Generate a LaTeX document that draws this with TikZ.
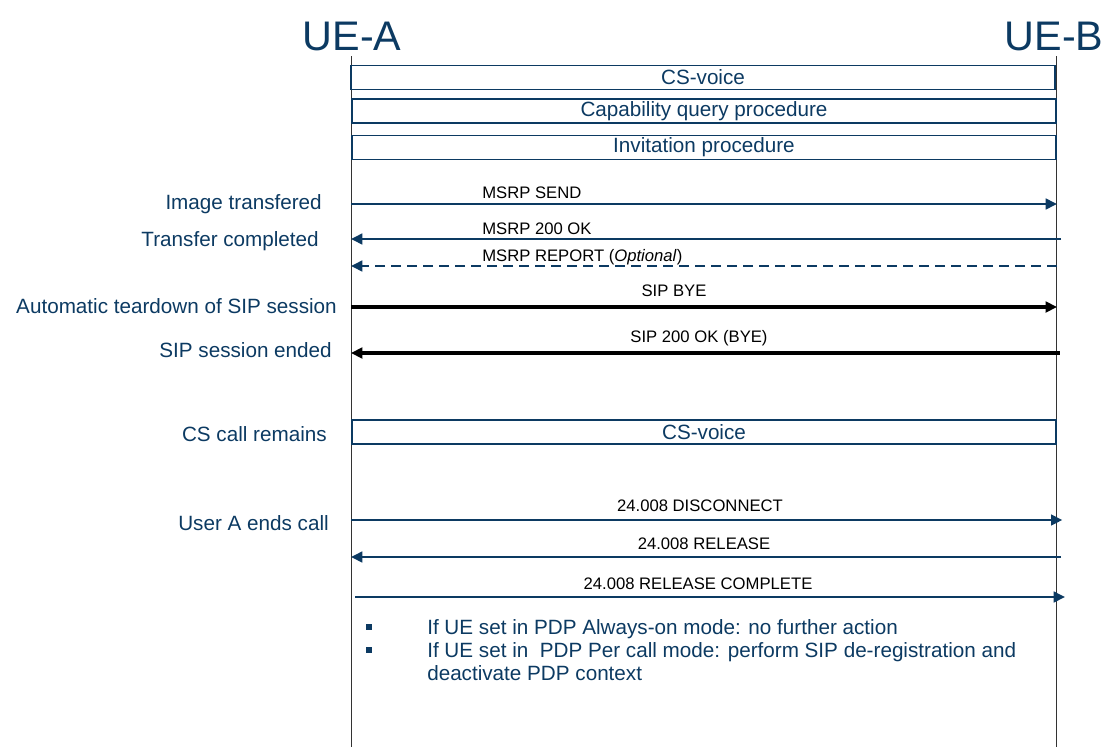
\documentclass[tikz,border=0pt]{standalone}
\usepackage{fontspec}
\setmainfont{Liberation Sans}
\usetikzlibrary{arrows.meta}

\definecolor{navy}{RGB}{12,58,98}

\begin{document}
\begin{tikzpicture}[
		% pixel grid: x right, y down
		x={(0.75pt,0pt)},
		y={(0pt,-0.75pt)},
		font=\fontsize{15.5}{17.5}\selectfont,
		lifeline/.style={draw=black!80, line width=0.75pt},
		phase/.style={draw=navy, line width=0.9pt, text=navy, inner sep=0pt,
			minimum width=528pt, minimum height=18pt},
		msg/.style={draw=navy, line width=1.9pt, -{Triangle[length=8.5pt,width=8pt]}},
		sipmsg/.style={msg, draw=black, line width=2.3pt},
		msglabel/.style={font=\fontsize{12.5}{14}\selectfont, text=black, inner sep=0pt},
		event/.style={anchor=base east, text=navy, inner sep=0pt},
		bulletdot/.style={fill=navy, inner sep=0pt, minimum size=4.5pt}
		]
		
		\useasboundingbox (0,0) rectangle (1104,747);
		
		% ==========================================
		% 1. The two terminals and their lifelines
		% ==========================================
		\node[anchor=base, text=navy, inner sep=0pt, font=\fontsize{31}{33}\selectfont] (uea) at (352,50) {UE-A};
		\node[anchor=base, text=navy, inner sep=0pt, font=\fontsize{31}{33}\selectfont] (ueb) at (1054,50) {UE-B};
		
		\coordinate (uea-top) at (351,56);
		\coordinate (uea-end) at (351,747);
		\coordinate (ueb-top) at (1056,56);
		\coordinate (ueb-end) at (1056,747);
		\draw[lifeline] (uea-top) -- (uea-end);
		\draw[lifeline] (ueb-top) -- (ueb-end);
		
		% ==========================================
		% 2. Set-up phases
		% ==========================================
		\node[phase] (voice1) at (703,77.5) {CS-voice};
		\node[phase] (capq) at (704,111) {Capability query procedure};
		\node[phase] (invite) at (704,147.3) {Invitation procedure};
		
		% ==========================================
		% 3. MSRP transfer and SIP teardown
		% ==========================================
		\foreach \n/\y in {send/204, ok/239, report/266, bye/307, byeok/353,
			disc/520, rel/557, relc/597} {
			\coordinate (\n-a) at (351,\y);
			\coordinate (\n-b) at (1057,\y);
		}
		
		\draw[msg] (send-a) -- (send-b);
		\draw[msg] ([xshift=3pt]ok-b) -- (ok-a);
		\draw[msg, dashed, dash pattern=on 7.5pt off 4.5pt] (report-b) -- (report-a);
		\draw[sipmsg] (bye-a) -- (bye-b);
		\draw[sipmsg] ([xshift=2pt]byeok-b) -- (byeok-a);
		
		\node[msglabel, anchor=base west] (send-l) at (482,198) {MSRP SEND};
		\node[msglabel, anchor=base west] (ok-l) at (482,234) {MSRP 200 OK};
		\node[msglabel, anchor=base west] (report-l) at (482,261) {MSRP REPORT (\textit{Optional})};
		\node[msglabel, anchor=base] (bye-l) at (674,296) {SIP BYE};
		\node[msglabel, anchor=base] (byeok-l) at (699,342) {SIP 200 OK (BYE)};
		
		\node[event] (ev1) at (322,209) {Image transfered};
		\node[event] (ev2) at (319,246) {Transfer completed};
		\node[event] (ev3) at (337,313) {Automatic teardown of SIP session};
		\node[event] (ev4) at (332,357) {SIP session ended};
		
		% ==========================================
		% 4. Circuit switched call and its release
		% ==========================================
		\node[phase] (voice2) at (704,432) {CS-voice};
		\node[event] (ev5) at (327,441) {CS call remains};
		
		\draw[msg] (disc-a) -- ([xshift=4pt]disc-b);
		\draw[msg] ([xshift=3pt]rel-b) -- (rel-a);
		\draw[msg] ([xshift=3pt]relc-a) -- ([xshift=6pt]relc-b);
		
		\node[msglabel, anchor=base] (disc-l) at (700,511) {24.008 DISCONNECT};
		\node[msglabel, anchor=base] (rel-l) at (704,549) {24.008 RELEASE};
		\node[msglabel, anchor=base] (relc-l) at (698,589) {24.008 RELEASE COMPLETE};
		
		\node[event] (ev6) at (329,530) {User A ends call};
		
		% Notes on what follows
		\node[bulletdot] (dot1) at (369,627) {};
		\node[bulletdot] (dot2) at (369,650) {};
		\node[anchor=base west, text=navy, inner sep=0pt] (note1) at (427,634) {If UE set in PDP Always-on mode: no further action};
		\node[anchor=north west, text=navy, inner sep=0pt, align=left] (note2) at (427,642)
		{If UE set in\ \ PDP Per call mode: perform SIP de-registration and\\deactivate PDP context};
		
	\end{tikzpicture}
\end{document}
